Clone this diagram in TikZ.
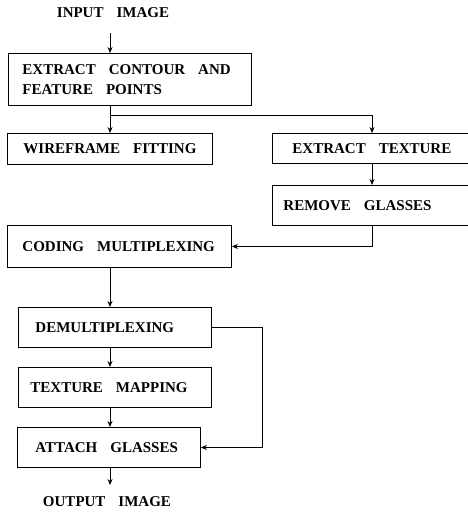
\documentclass[tikz,border=0pt]{standalone}
\usepackage{fontspec}
\setmainfont{Liberation Serif}
\usetikzlibrary{arrows.meta}

\newcommand\wsp{\hspace{13pt}}

\tikzset{
  box/.style={draw, line width=0.9pt, anchor=north west, align=left, inner ysep=0pt,
    font=\bfseries\fontsize{15}{20}\selectfont},
  lbl/.style={inner sep=0.75pt, font=\bfseries\fontsize{15}{20}\selectfont},
  arr/.style={line width=0.8pt, -{Stealth[length=6pt,width=5pt]}},
  ln/.style={line width=0.8pt}
}

\begin{document}
\begin{tikzpicture}[x=1pt,y=1pt,yscale=-1,xscale=1]
\useasboundingbox (0,0) rectangle (468,514);

% Text Node
\node (in) at (113,13) [lbl] {INPUT\wsp IMAGE};
\coordinate (inend) at (110,33);
\coordinate (spine) at (110,0);
\coordinate (rspine) at (372,0);
\coordinate (fb) at (262,0);
\coordinate (split) at (110,115);

%Shape: Rectangle
\node (extract) at (8,53) [box, minimum height=52, inner xsep=14, text width=215] {\mbox{EXTRACT\wsp CONTOUR\wsp AND}\\FEATURE\wsp POINTS};
%Shape: Rectangle
\node (wire) at (7,133) [box, minimum height=31, inner xsep=16, text width=173] {\mbox{WIREFRAME\wsp FITTING}};
%Shape: Rectangle
\node (texture) at (272,133) [box, minimum height=30, inner xsep=20, text width=170] {EXTRACT\wsp TEXTURE};
%Shape: Rectangle
\node (remove) at (272,185) [box, minimum height=40, inner xsep=11, text width=188] {REMOVE\wsp GLASSES};
%Shape: Rectangle
\node (coding) at (7,225) [box, minimum height=42, inner xsep=15, text width=194] {\mbox{CODING\wsp MULTIPLEXING}};
%Shape: Rectangle
\node (demux) at (18,307) [box, minimum height=40, inner xsep=17, text width=159] {DEMULTIPLEXING};
%Shape: Rectangle
\node (mapping) at (18,367) [box, minimum height=40, inner xsep=12, text width=169] {TEXTURE\wsp MAPPING};
%Shape: Rectangle
\node (attach) at (17,427) [box, minimum height=40, inner xsep=18, text width=147] {\mbox{ATTACH\wsp GLASSES}};

% Text Node
\node (out) at (107,502) [lbl] {OUTPUT\wsp IMAGE};
\coordinate (outend) at (110,485);

%Straight Lines
\draw [arr] (inend) -- (extract.north -| inend);
\draw [arr] (extract.south -| spine) -- (wire.north -| spine);
\draw [arr] (split) -| (texture.north -| rspine);
\draw [arr] (texture.south -| rspine) -- (remove.north -| rspine);
\draw [arr] (remove.south -| rspine) |- (coding.east);
\draw [arr] (coding.south -| spine) -- (demux.north -| spine);
\draw [arr] (demux.south -| spine) -- (mapping.north -| spine);
\draw [arr] (mapping.south -| spine) -- (attach.north -| spine);
\draw [arr] (demux.east) -- (demux.east -| fb) |- (attach.east);
\draw [arr] (attach.south -| spine) -- (outend);

\end{tikzpicture}
\end{document}
